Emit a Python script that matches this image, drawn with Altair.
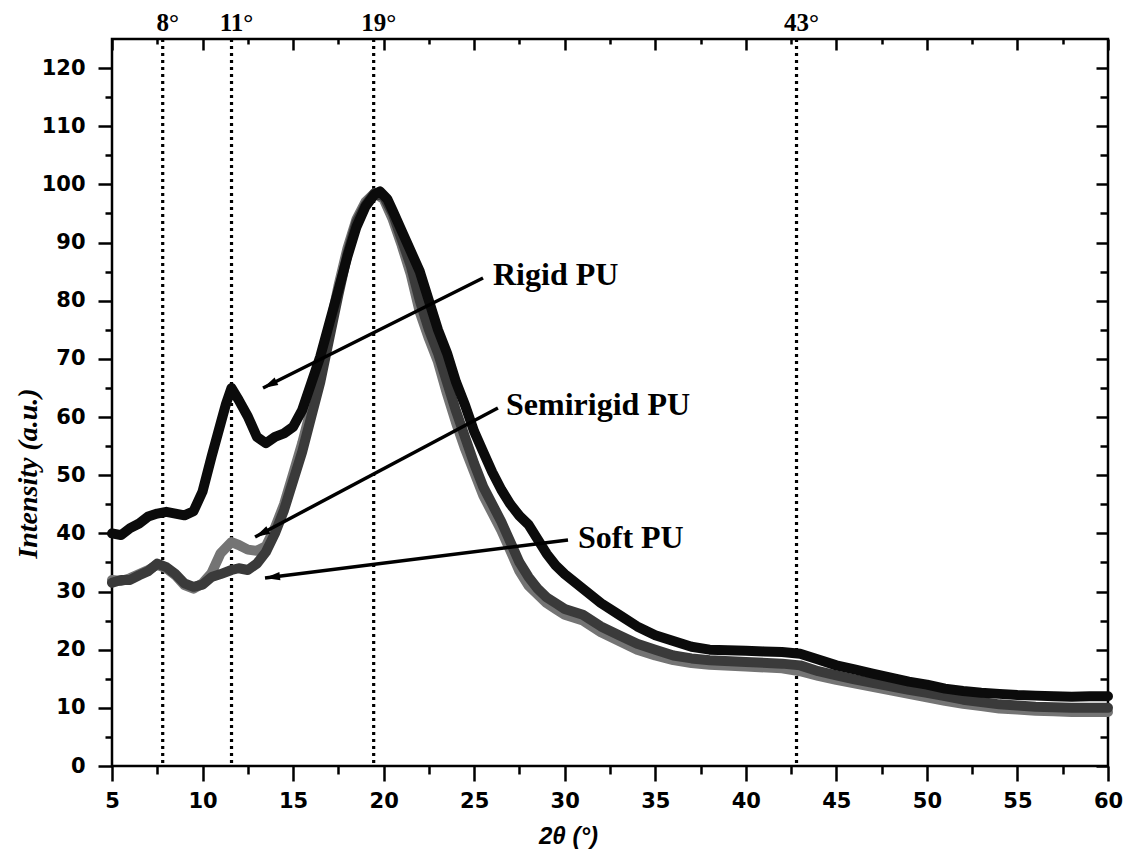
import math
import altair as alt
import pandas as pd

# ---------------- data ----------------
rigid_x = [5, 5.5, 6, 6.5, 7, 7.5, 8, 8.5, 9, 9.5,
           10, 10.5, 11, 11.3, 11.6, 12, 12.5, 13, 13.5, 14,
           14.5, 15, 15.5, 16, 16.5, 17, 17.5, 18, 18.5, 19,
           19.5, 19.8, 20.2, 20.5, 21, 21.5, 22, 22.5, 23, 23.5,
           24, 24.5, 25, 25.5, 26, 26.5, 27, 27.5, 28, 28.5,
           29, 29.5, 30, 31, 32, 33, 34, 35, 36, 37,
           38, 39, 40, 41, 42, 43, 44, 45, 46, 47,
           48, 49, 50, 51, 52, 53, 54, 55, 56, 57,
           58, 59, 60]
rigid_y = [40, 39.7, 40.9, 41.7, 42.9, 43.4, 43.7, 43.4, 43.1, 43.8,
           47.2, 53.2, 58.9, 62.3, 65.0, 62.9, 60.1, 56.6, 55.5, 56.6,
           57.2, 58.3, 61.2, 65.8, 70.4, 76.1, 81.8, 87.6, 92.7, 96.2,
           98.3, 98.8, 97.5, 95.5, 92, 88.5, 85, 80, 75, 71,
           66, 62, 57.5, 54, 50.5, 47.5, 45, 43, 41.5, 39,
           36.5, 34.5, 33, 30.5, 28, 26, 24, 22.5, 21.5, 20.5,
           20, 19.9, 19.8, 19.7, 19.6, 19.3, 18.3, 17.3, 16.6, 15.9,
           15.2, 14.5, 14, 13.3, 12.9, 12.6, 12.4, 12.2, 12.1, 12,
           11.9, 12, 12]

gray_x = [5, 5.5, 6, 6.5, 7, 7.5, 8, 8.5, 9, 9.5,
          10, 10.5, 11, 11.6, 12, 12.5, 13, 13.5, 14, 14.5,
          15, 15.5, 16, 16.5, 17, 17.5, 18, 18.5, 19, 19.5,
          20, 20.5, 21, 21.5, 22, 22.5, 23, 23.5, 24, 24.5,
          25, 25.5, 26, 26.5, 27, 27.5, 28, 28.5, 29, 29.5,
          30, 31, 32, 33, 34, 35, 36, 37, 38, 40,
          42, 43, 44, 45, 46, 47, 48, 49, 50, 51,
          52, 53, 54, 55, 56, 57, 58, 59, 60]
semi_y = [32, 31.8, 32.3, 33, 33.7, 34.6, 34, 32.8, 31.1, 30.5,
          31.4, 33.2, 36.6, 38.5, 38, 37.2, 37, 37.8, 41, 45,
          50.2, 55.5, 61.5, 67.5, 75, 82.5, 89, 94, 97, 98.5,
          97.5, 94, 89.5, 84.5, 78, 73.5, 69.5, 64, 59, 54.5,
          50.5, 46.5, 43.5, 40.5, 37, 33.5, 31, 29.5, 28, 27,
          26, 25, 23, 21.5, 20, 19, 18.2, 17.7, 17.4, 17.1,
          16.8, 16.3, 15.5, 14.8, 14.2, 13.6, 13, 12.4, 11.8, 11.2,
          10.7, 10.3, 9.9, 9.7, 9.5, 9.4, 9.3, 9.3, 9.3]
soft_y = [31.5, 32, 32, 32.8, 33.5, 34.8, 34.2, 33, 31.4, 30.8,
          31.2, 32.5, 33, 33.7, 34, 33.7, 34.8, 36.8, 40, 44,
          49, 54, 60, 66, 73.5, 81, 88, 93.5, 96.5, 98.5,
          98, 95, 90.5, 86, 80, 75, 71, 66, 61, 56.5,
          52, 48, 45, 42, 38.5, 35, 32.5, 30.5, 29, 28,
          27, 26, 24, 22.5, 21, 20, 19, 18.5, 18.2, 17.9,
          17.6, 17.3, 16.3, 15.6, 14.9, 14.3, 13.7, 13.1, 12.6, 12,
          11.4, 11, 10.6, 10.4, 10.2, 10.1, 10, 10, 10]

series_names = ["Semirigid PU", "Soft PU", "Rigid PU"]
series_colors = ["#747474", "#3a3a3a", "#0b0b0b"]

peak_x = [7.8, 11.6, 19.45, 42.8]
peak_labels = ["8°", "11°", "19°", "43°"]

ann_labels = ["Rigid PU", "Semirigid PU", "Soft PU"]
ann_text_x = [26.04, 26.76, 30.73]
ann_text_y = [82.7, 60.35, 37.48]
arrow_x_start = [25.49, 26.31, 30.18]
arrow_y_start = [83.9, 61.55, 38.86]
arrow_x_tip = [13.34, 12.90, 13.45]
arrow_y_tip = [65.0, 39.37, 32.33]

x_major = [5, 10, 15, 20, 25, 30, 35, 40, 45, 50, 55, 60]
x_minor = [7.5, 12.5, 17.5, 22.5, 27.5, 32.5, 37.5, 42.5, 47.5, 52.5, 57.5]
y_major = [0, 10, 20, 30, 40, 50, 60, 70, 80, 90, 100, 110, 120]
y_minor = [5, 15, 25, 35, 45, 55, 65, 75, 85, 95, 105, 115]

# ---------------- layout ----------------
W, H = 996, 727
X_DOM = [5, 60]
Y_DOM = [0, 125]

rows = []
for name, xs, ys in [("Semirigid PU", gray_x, semi_y),
                     ("Soft PU", gray_x, soft_y),
                     ("Rigid PU", rigid_x, rigid_y)]:
    for i, (a, b) in enumerate(zip(xs, ys)):
        rows.append({"series": name, "x": a, "y": b, "order": i})
curves = pd.DataFrame(rows)

px_x = W / (X_DOM[1] - X_DOM[0])
px_y = H / (Y_DOM[1] - Y_DOM[0])
angles = []
for xs, ys, xt, yt in zip(arrow_x_start, arrow_y_start, arrow_x_tip, arrow_y_tip):
    dx = (xt - xs) * px_x
    dy = -(yt - ys) * px_y
    angles.append(math.degrees(math.atan2(dx, -dy)) % 360)

arr = pd.DataFrame({
    "label": ann_labels, "tx": ann_text_x, "ty": ann_text_y,
    "x0": arrow_x_start, "y0": arrow_y_start,
    "x1": arrow_x_tip, "y1": arrow_y_tip, "angle": angles,
})
peaks = pd.DataFrame({"x": peak_x, "label": peak_labels})

xscale = alt.Scale(domain=X_DOM, nice=False, zero=False)
yscale = alt.Scale(domain=Y_DOM, nice=False, zero=False)

LABEL_FONT = "DejaVu Sans"


def axis(orient, values, size, offset=0, **kw):
    base = dict(orient=orient, values=values, tickSize=size, offset=offset,
                grid=False, domain=False, tickColor="black", tickWidth=2.5,
                labels=False, title=None)
    base.update(kw)
    return alt.Axis(**base)


bottom_major = axis("bottom", x_major, 15, labels=True, labelFont=LABEL_FONT,
                    labelFontWeight="bold", labelFontSize=21, labelColor="black",
                    labelPadding=9, labelFlush=False, labelOverlap=False,
                    title="2θ (°)", titleFont="Liberation Sans",
                    titleFontStyle="italic", titleFontWeight="bold",
                    titleFontSize=24, titleColor="black", titleX=456, titleY=77,
                    titleAlign="center", titleBaseline="alphabetic")
left_major = axis("left", y_major, 14, labels=True, labelFont=LABEL_FONT,
                  labelFontWeight="bold", labelFontSize=21, labelColor="black",
                  labelPadding=13, labelFlush=False, labelOverlap=False,
                  title="Intensity (a.u.)", titleFont="Liberation Serif",
                  titleFontStyle="italic", titleFontWeight="bold",
                  titleFontSize=28, titleColor="black", titleAngle=270,
                  titleX=-84, titleY=434, titleAlign="center",
                  titleBaseline="middle")
bottom_minor = axis("bottom", x_minor, 8)
left_minor = axis("left", y_minor, 7)
top_major = axis("top", x_major, 11, offset=-11)
right_major = axis("right", y_major, 12, offset=-12)
top_minor = axis("top", x_minor, 5, offset=-5)
right_minor = axis("right", y_minor, 8, offset=-8)

rules = alt.Chart(peaks).mark_rule(
    strokeDash=[3, 4], strokeWidth=3.2, color="black"
).encode(x=alt.X("x:Q", scale=xscale, axis=None))

top_text = alt.Chart(peaks).mark_text(
    font="Liberation Serif", fontWeight="bold", fontSize=25, dx=5,
    align="center", baseline="alphabetic", color="black"
).encode(
    x=alt.X("x:Q", scale=xscale, axis=None),
    y=alt.value(-8),
    text="label:N",
)

lines = alt.Chart(curves).mark_line(
    strokeWidth=10, strokeJoin="round", strokeCap="round"
).encode(
    x=alt.X("x:Q", scale=xscale, axis=bottom_major),
    y=alt.Y("y:Q", scale=yscale, axis=left_major),
    color=alt.Color("series:N",
                    scale=alt.Scale(domain=series_names, range=series_colors),
                    legend=None),
    order="order:Q",
)

arrow_lines = alt.Chart(arr).mark_rule(strokeWidth=3.5, color="black").encode(
    x=alt.X("x0:Q", scale=xscale, axis=bottom_minor),
    y=alt.Y("y0:Q", scale=yscale, axis=left_minor),
    x2="x1:Q",
    y2="y1:Q",
)

heads = alt.Chart(arr).mark_point(
    shape="M0,0L-0.55,2L0.55,2Z", filled=True, size=225, color="black",
    opacity=1, strokeWidth=0
).encode(
    x=alt.X("x1:Q", scale=xscale, axis=top_major),
    y=alt.Y("y1:Q", scale=yscale, axis=right_major),
    angle=alt.Angle("angle:Q", scale=None),
)

ann = alt.Chart(arr).mark_text(
    font="Liberation Serif", fontWeight="bold", fontSize=32, align="left",
    baseline="alphabetic", color="black"
).encode(
    x=alt.X("tx:Q", scale=xscale, axis=top_minor),
    y=alt.Y("ty:Q", scale=yscale, axis=right_minor),
    text="label:N",
)

chart = alt.layer(rules, lines, arrow_lines, heads, ann, top_text).resolve_axis(
    x="independent", y="independent"
).properties(
    width=W, height=H,
    autosize=alt.AutoSizeParams(type="none"),
    padding={"left": 104, "top": 31, "right": 15, "bottom": 90},
    background="white",
).configure_view(stroke="black", strokeWidth=2.5)

chart.save("out.html", embed_options={"renderer": "svg", "actions": False})
